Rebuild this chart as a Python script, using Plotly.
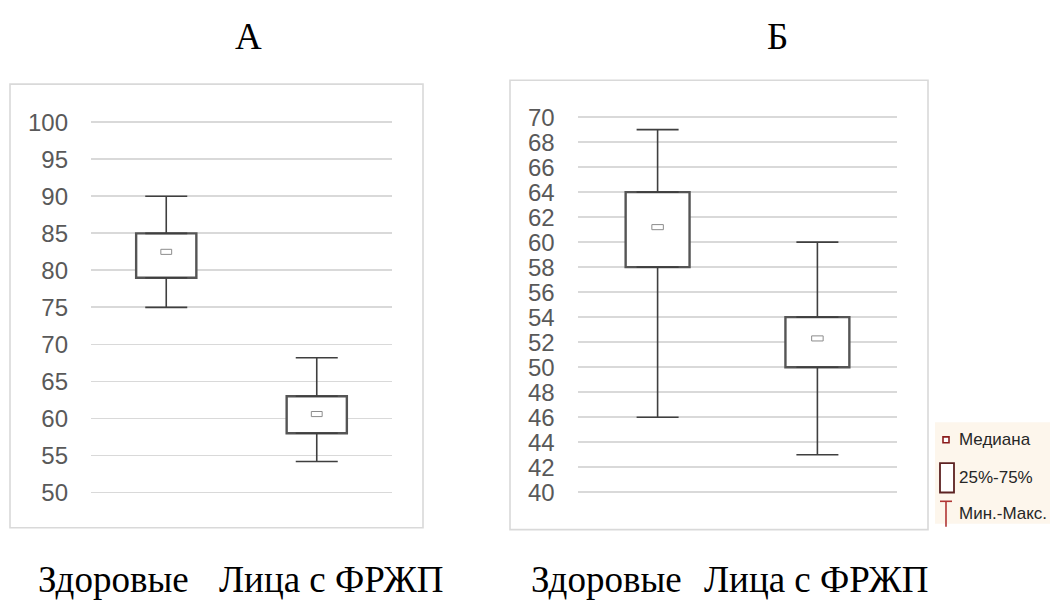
import plotly.graph_objects as go

# ---------------- data ----------------
categories = ["Здоровые", "Лица с ФРЖП"]

a_min = [75, 54.2]
a_q1 = [79, 58]
a_median = [82.5, 60.6]
a_q3 = [85, 63]
a_max = [90, 68.2]

b_min = [46, 43]
b_q1 = [58, 50]
b_median = [61.2, 52.3]
b_q3 = [64, 54]
b_max = [69, 60]

a_ticks = list(range(50, 101, 5))
b_ticks = list(range(40, 71, 2))

panel_titles = ["А", "Б"]
caption_words = ["Здоровые", "Лица с ФРЖП"]
legend_labels = ["Медиана", "25%-75%", "Мин.-Макс."]

# ---------------- style ----------------
W, H = 1050, 606
BOX_LINE = "#555555"
WHISK = "#3f3f3f"
GRID = "#d9d9d9"
TICK_FONT = dict(family="Liberation Sans, Arial, sans-serif", size=24, color="#595959")
SERIF = "Liberation Serif, Times New Roman, serif"


def px2x(px):
    return px / W


def px2y(py):
    return 1 - py / H


panels = [
    dict(x0=91, x1=392, ytop=110.4, ybot=504.6, rng=[49, 101], ticks=a_ticks,
         mn=a_min, q1=a_q1, med=a_median, q3=a_q3, mx=a_max,
         border=(10, 79, 423, 533), xa="x", ya="y"),
    dict(x0=577.7, x1=897.3, ytop=106.3, ybot=503.1, rng=[39.5, 70.5], ticks=b_ticks,
         mn=b_min, q1=b_q1, med=b_median, q3=b_q3, mx=b_max,
         border=(510, 75, 928, 535), xa="x2", ya="y2"),
]

fig = go.Figure()
shapes = []
annotations = []

for i, p in enumerate(panels):
    unit_px = (p["ybot"] - p["ytop"]) / (p["rng"][1] - p["rng"][0])
    med_half = 2.6 / unit_px
    # box 25-75%
    fig.add_trace(go.Bar(
        x=categories, y=[b - a for a, b in zip(p["q1"], p["q3"])], base=p["q1"],
        width=0.4, marker=dict(color="white", line=dict(color=BOX_LINE, width=2.4)),
        xaxis=p["xa"], yaxis=p["ya"], showlegend=False, hoverinfo="skip"))
    # median small rectangle
    fig.add_trace(go.Bar(
        x=categories, y=[2 * med_half] * len(categories),
        base=[m - med_half for m in p["med"]],
        width=0.072, marker=dict(color="white", line=dict(color="#8c8c8c", width=1)),
        xaxis=p["xa"], yaxis=p["ya"], showlegend=False, hoverinfo="skip"))
    # upper whisker
    fig.add_trace(go.Scatter(
        x=categories, y=p["q3"], mode="markers",
        marker=dict(size=1, color="rgba(0,0,0,0)"),
        error_y=dict(type="data", symmetric=False,
                     array=[b - a for a, b in zip(p["q3"], p["mx"])],
                     arrayminus=[0] * len(categories),
                     color=WHISK, thickness=1.6, width=21),
        xaxis=p["xa"], yaxis=p["ya"], showlegend=False, hoverinfo="skip"))
    # lower whisker
    fig.add_trace(go.Scatter(
        x=categories, y=p["q1"], mode="markers",
        marker=dict(size=1, color="rgba(0,0,0,0)"),
        error_y=dict(type="data", symmetric=False,
                     array=[0] * len(categories),
                     arrayminus=[a - b for a, b in zip(p["q1"], p["mn"])],
                     color=WHISK, thickness=1.6, width=21),
        xaxis=p["xa"], yaxis=p["ya"], showlegend=False, hoverinfo="skip"))

    bx0, by0, bx1, by1 = p["border"]
    shapes.append(dict(type="rect", xref="paper", yref="paper",
                       x0=px2x(bx0), x1=px2x(bx1), y0=px2y(by1), y1=px2y(by0),
                       line=dict(color=GRID, width=1.6), fillcolor="rgba(0,0,0,0)",
                       layer="below"))

    xkey = "xaxis" if i == 0 else "xaxis2"
    ykey = "yaxis" if i == 0 else "yaxis2"
    fig.update_layout(**{
        xkey: dict(domain=[px2x(p["x0"]), px2x(p["x1"])], type="category",
                   categoryorder="array", categoryarray=categories,
                   range=[-0.5, 1.5], showticklabels=False, showgrid=False,
                   zeroline=False, showline=False, ticks="",
                   anchor=p["ya"]),
        ykey: dict(domain=[px2y(p["ybot"]), px2y(p["ytop"])], range=p["rng"],
                   tickvals=p["ticks"], ticktext=[str(t) for t in p["ticks"]],
                   showgrid=True, gridcolor=GRID, gridwidth=1.8,
                   zeroline=False, showline=False, ticks="",
                   tickfont=TICK_FONT, ticklabelstandoff=22,
                   anchor=p["xa"]),
    })

for txt, cx in zip(panel_titles, [248, 777]):
    annotations.append(dict(text=txt, x=px2x(cx), y=px2y(30), xref="paper", yref="paper",
                            xanchor="center", yanchor="middle", showarrow=False,
                            font=dict(family=SERIF, size=37, color="black")))

for lefts in ([36, 217], [529, 702]):
    for word, lx in zip(caption_words, lefts):
        annotations.append(dict(text=word, x=px2x(lx), y=px2y(586), xref="paper", yref="paper",
                                xanchor="left", yanchor="middle", showarrow=False,
                                font=dict(family=SERIF, size=37, color="black")))

# legend (manual)
shapes.append(dict(type="rect", xref="paper", yref="paper",
                   x0=px2x(935), x1=px2x(1050), y0=px2y(529), y1=px2y(425),
                   line=dict(width=0), fillcolor="#fdf6ec", layer="below"))
shapes.append(dict(type="rect", xref="paper", yref="paper",
                   x0=px2x(943), x1=px2x(949), y0=px2y(446), y1=px2y(440),
                   line=dict(color="#8b1c1c", width=1.6), fillcolor="white"))
shapes.append(dict(type="rect", xref="paper", yref="paper",
                   x0=px2x(940), x1=px2x(954), y0=px2y(497), y1=px2y(467),
                   line=dict(color="#5c2222", width=1.8), fillcolor="white"))
shapes.append(dict(type="line", xref="paper", yref="paper",
                   x0=px2x(940), x1=px2x(952), y0=px2y(506), y1=px2y(506),
                   line=dict(color="#b03535", width=1.6)))
shapes.append(dict(type="line", xref="paper", yref="paper",
                   x0=px2x(946), x1=px2x(946), y0=px2y(506), y1=px2y(532),
                   line=dict(color="#b03535", width=1.6)))

LEG_FONT = dict(family="Liberation Sans, Arial, sans-serif", size=17, color="#262626")
for lbl, cy in zip(legend_labels, [443, 482, 518]):
    annotations.append(dict(text=lbl, x=px2x(957), y=px2y(cy), xref="paper", yref="paper",
                            xanchor="left", yanchor="middle", showarrow=False, font=LEG_FONT))

fig.update_layout(
    width=W, height=H, margin=dict(l=0, r=0, t=0, b=0),
    paper_bgcolor="white", plot_bgcolor="white",
    barmode="overlay", showlegend=False, hovermode=False,
    shapes=shapes, annotations=annotations,
)

fig.write_html("out.html", config={"displayModeBar": False, "staticPlot": True},
               post_script="document.body.style.margin='0';document.body.style.overflow='hidden';")
